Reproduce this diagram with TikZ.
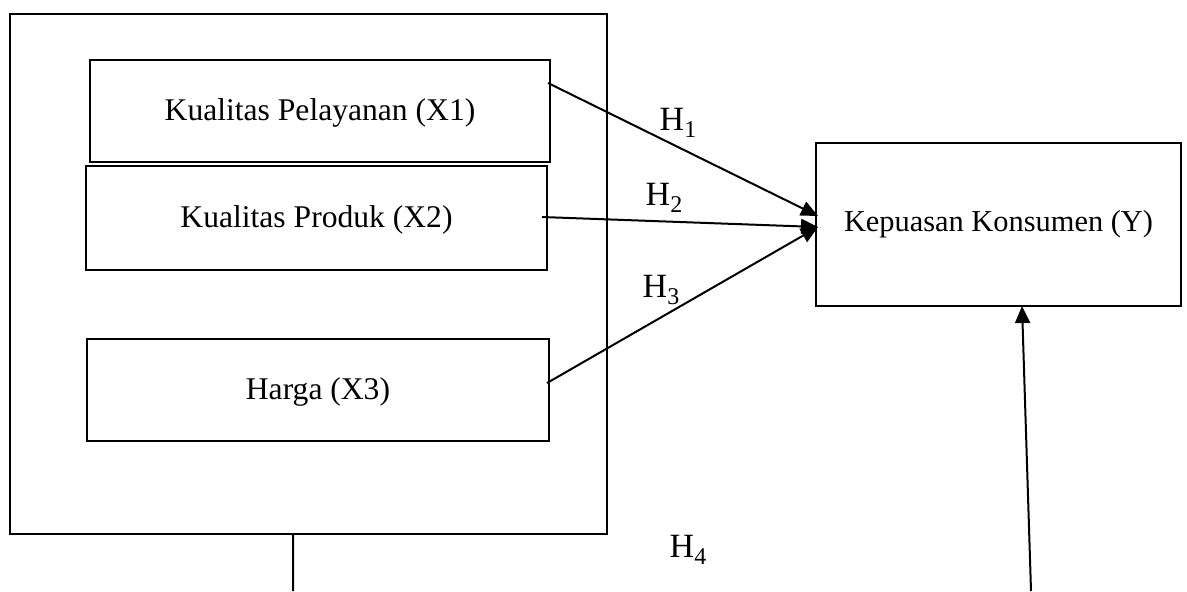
\documentclass[tikz,border=0pt]{standalone}
\usepackage{fontspec}
\setmainfont{Liberation Serif}
\usetikzlibrary{arrows.meta,calc}

\newcommand{\hyp}[1]{H\raisebox{-3.2pt}{\fontsize{12}{14}\selectfont #1}}

\begin{document}
\begin{tikzpicture}[x=0.5pt,y=-0.5pt,
  box/.style={draw=black,line width=1pt,inner sep=0pt,outer sep=0pt,
    font=\fontsize{15.8}{18}\selectfont},
  link/.style={line width=1pt,-{Triangle[length=8.5pt,width=7.5pt]}},
  hlabel/.style={font=\fontsize{17}{20}\selectfont}]
\useasboundingbox (0,0) rectangle (1187,591);

% outer frame and the three variables
\node[box,minimum width=298.75pt,minimum height=260pt] (frame) at (308.25,273.5) {};
\node[box,minimum width=230pt,minimum height=51pt,text depth=1pt] (x1) at (320,111) {Kualitas Pelayanan (X1)};
\node[box,minimum width=230.5pt,minimum height=52pt,text depth=1pt] (x2) at (316.5,218) {Kualitas Produk (X2)};
\node[box,minimum width=231pt,minimum height=51pt,text depth=1pt] (x3) at (318,390) {Harga (X3)};

% dependent variable
\node[box,minimum width=182.5pt,minimum height=81.5pt,font=\fontsize{15.2}{18}\selectfont] (y) at (998.5,224.5) {Kepuasan Konsumen (Y)};

% connectors
\coordinate (s1) at ($(x1.east)+(-2,-28)$);
\coordinate (s2) at ($(x2.east)+(-5,-1)$);
\coordinate (s3) at ($(x3.east)+(-2,-7)$);
\coordinate (t1) at ($(y.west)+(2,-8.5)$);
\coordinate (t2) at ($(y.west)+(2,2.5)$);
\coordinate (b1) at ($(frame.south)+(-15,0)$);
\coordinate (b2) at (293,591);
\coordinate (t4) at ($(y.south)+(23.5,0)$);
\coordinate (s4) at (1031,591);

\draw[link] (s1) -- (t1);
\draw[link] (s2) -- (t2);
\draw[link] (s3) -- (t2);
\draw[line width=1pt] (b1) -- (b2);
\draw[link] (s4) -- (t4);

% hypotheses
\node[hlabel] (h1) at (678,123) {\hyp{1}};
\node[hlabel] (h2) at (664,198) {\hyp{2}};
\node[hlabel] (h3) at (661,290) {\hyp{3}};
\node[hlabel] (h4) at (688,550) {\hyp{4}};

\end{tikzpicture}
\end{document}
